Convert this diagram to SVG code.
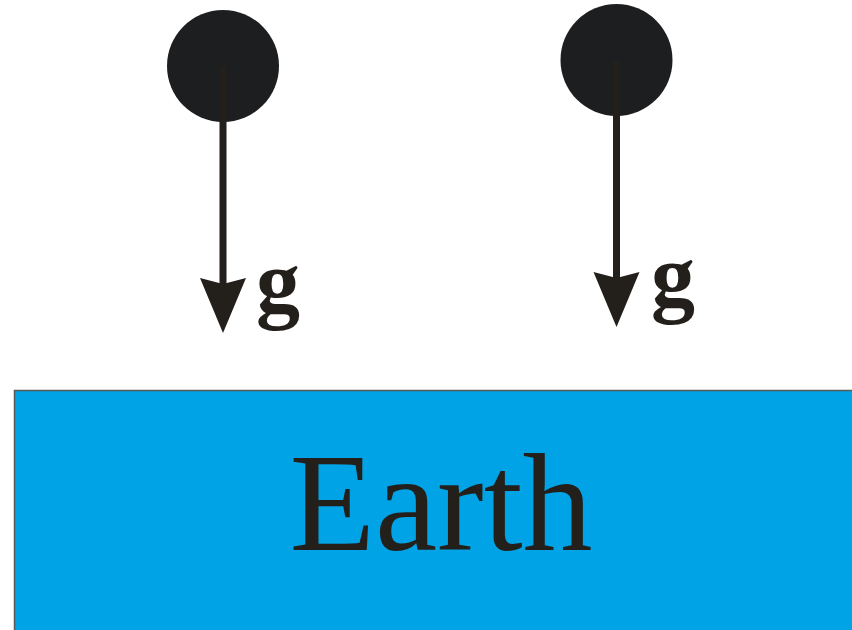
<svg xmlns="http://www.w3.org/2000/svg" xmlns:xlink="http://www.w3.org/1999/xlink" width="852" height="630" viewBox="0 0 852 630">
  <style>
    .ball { fill: #1d1e20; }
    .shaft { stroke: #231f1a; stroke-width: 7; fill: none; }
    .head { fill: #231f1a; }
    .g { font-family: "Liberation Serif", "Times New Roman", serif; font-weight: bold; font-size: 88px; fill: #231f1a; }
    .earth-text { font-family: "Liberation Serif", "Times New Roman", serif; font-size: 140px; fill: #231f1a; }
  </style>
  <defs>
    <path id="arrowhead" class="head" d="M0,0 L-23,-55 L0,-49 L23,-55 Z"/>
  </defs>
  <g id="earth">
    <rect x="14.5" y="390.5" width="845" height="250" fill="#00a3e5" stroke="#5a5a5a" stroke-width="1.5"/>
    <text class="earth-text" x="441" y="550" text-anchor="middle">Earth</text>
  </g>
  <g id="ball1">
    <circle class="ball" cx="223" cy="66" r="56"/>
  </g>
  <g id="ball2">
    <circle class="ball" cx="616.5" cy="60" r="56"/>
  </g>
  <g id="connectors">
    <line class="shaft" x1="223" y1="67" x2="223" y2="288"/>
    <use xlink:href="#arrowhead" transform="translate(223,333)"/>
    <line class="shaft" x1="616.5" y1="61" x2="616.5" y2="282"/>
    <use xlink:href="#arrowhead" transform="translate(616.5,327)"/>
  </g>
  <g id="label1">
    <text class="g" x="256" y="312">g</text>
  </g>
  <g id="label2">
    <text class="g" x="651" y="306">g</text>
  </g>
</svg>
